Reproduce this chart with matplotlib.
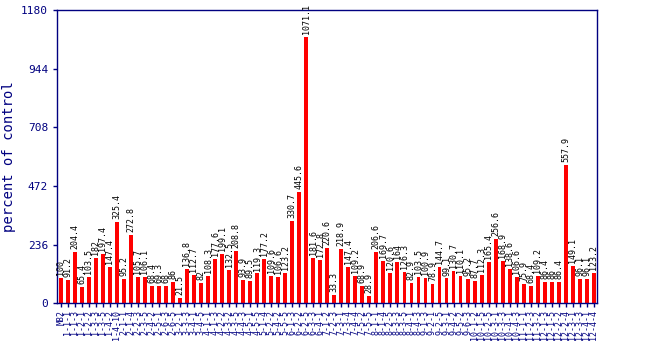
import matplotlib
matplotlib.use("Agg")
import matplotlib.pyplot as plt
import numpy as np

labels = [
    "M82",
    "1-1-1", "1-1-3", "1-2-1", "1-2-2", "1-3-3", "1-3-5", "1-4-2", "1-4-10",
    "2-1-1", "2-1-4", "2-2-3", "2-3-5", "2-4-2", "2-5-1", "2-6-3", "2-6-5",
    "3-2-1", "3-3-3", "3-4-1", "3-4-5",
    "4-1-1", "4-1-3", "4-2-2", "4-3-2", "4-3-5", "4-4-3", "4-5-1", "4-5-5",
    "5-1-4", "5-2-2", "5-4-2", "5-5-5",
    "6-1-3", "6-2-2", "6-2-5", "6-3-3", "6-4-1",
    "7-1-2", "7-2-3", "7-3-1", "7-3-4", "7-4-4", "7-5-2", "7-5-5",
    "8-1-1", "8-1-4", "8-2-5", "8-3-3", "8-3-5", "8-4-1", "8-4-3",
    "9-1-3", "9-2-1", "9-2-5", "9-3-1", "9-4-2", "9-5-2", "9-6-3",
    "10-1-2", "10-1-5", "10-2-5", "10-3-1", "10-3-3", "10-4-1", "10-4-3",
    "11-1-1", "11-2-3", "11-3-2",
    "12-1-3", "12-1-5", "12-2-2", "12-2-4", "12-3-1", "12-3-3", "12-4-1", "12-4-4",
]
values = [
    100, 91.2, 204.4, 65.4, 103.5, 182, 197.4, 147.4, 325.4, 95.2,
    272.8, 105.7, 106.1, 68.4, 69.3, 68, 86, 21.5, 136.8, 112.7,
    82, 108.3, 177.6, 199.1, 132.5, 208.8, 93.9, 89.5, 119.3, 177.2,
    109.6, 106.6, 123.2, 330.7, 445.6, 1071.1, 181.6, 172.8, 220.6, 33.3,
    218.9, 147.4, 109.2, 68.9, 28.9, 206.6, 169.7, 120.6, 164, 126.3,
    82.9, 103.5, 100.9, 78.9, 144.7, 99.1, 130.7, 110.1, 95.2, 87.7,
    112.3, 165.4, 256.6, 168.9, 138.6, 106.6, 75.9, 68.4, 109.2, 86.4,
    86, 86.4, 557.9, 149.1, 96.1, 96.1, 123.2,
]
yticks = [0, 236, 472, 708, 944, 1180]

navy = "#000080"
mono = "DejaVu Sans Mono"

fig = plt.figure(figsize=(6.5, 3.5), dpi=100)
ax = fig.add_axes([0.088, 0.134, 0.831, 0.837])
x = np.arange(len(values))
ax.bar(x, values, width=0.55, color="#ff0000")
# value labels above each bar
for xi, v in zip(x, values):
    ax.text(xi, v + 12, f"{v:g}", rotation=90, ha="center", va="bottom",
            fontsize=6, family=mono, color="black")

ax.set_xlim(-0.5, len(values) - 0.5)
ax.set_ylim(0, 1180)
ax.set_yticks(yticks)
ax.set_yticklabels([str(t) for t in yticks], family=mono, fontsize=8, color=navy)
ax.set_xticks(x)
ax.set_xticklabels(labels, rotation=90, family=mono, fontsize=6, color=navy)
ax.tick_params(axis="both", colors=navy, length=3, width=1)
ax.tick_params(axis="x", pad=2)
for s in ax.spines.values():
    s.set_color(navy)
    s.set_linewidth(1)
ax.set_ylabel("percent of control", family=mono, fontsize=10, color=navy)

fig.savefig("out.png", dpi=100)
